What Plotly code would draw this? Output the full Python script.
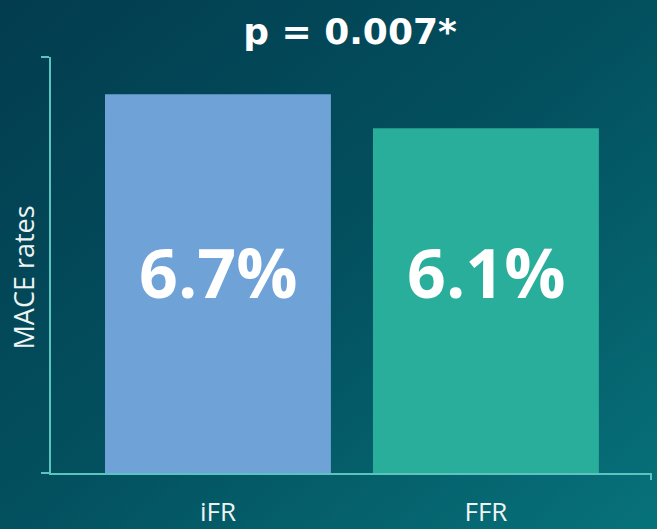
import base64
import plotly.graph_objects as go

# ---- data ----
categories = ["iFR", "FFR"]
mace_rates = [6.7, 6.1]
bar_colors = ["#6fa3d8", "#29ae9c"]
title_text = "p = 0.007*"
y_title = "MACE rates"

# ---- background gradient (decoration) ----
svg = (
    '<svg xmlns="http://www.w3.org/2000/svg" width="657" height="529" preserveAspectRatio="none">'
    '<defs><linearGradient id="g" x1="0" y1="0" x2="1" y2="1">'
    '<stop offset="0" stop-color="#023c4e"/>'
    '<stop offset="0.5" stop-color="#03505f"/>'
    '<stop offset="1" stop-color="#07727a"/>'
    '</linearGradient></defs>'
    '<rect width="657" height="529" fill="url(#g)"/></svg>'
)
bg_src = "data:image/svg+xml;base64," + base64.b64encode(svg.encode()).decode()

axis_color = "#5cc4be"
W, H = 657, 529
ml, mr, mt, mb = 51, 6, 57, 56
pw, ph = W - ml - mr, H - mt - mb

xs = list(range(len(categories)))

fig = go.Figure()
fig.add_trace(go.Bar(
    x=xs, y=mace_rates, width=0.843,
    marker=dict(color=bar_colors, line=dict(width=0)),
    hoverinfo="skip",
))

for xi, v in zip(xs, mace_rates):
    fig.add_annotation(
        x=xi, xref="x", y=0.485, yref="paper",
        text=f"{v}%", showarrow=False,
        font=dict(family="Open Sans", size=68, color="white", weight="bold"),
        xanchor="center", yanchor="middle",
    )

# y-axis title placed as rotated text
fig.add_annotation(
    x=(23 - ml) / pw, xref="paper", y=0.47, yref="paper",
    text=y_title, textangle=-90, showarrow=False,
    font=dict(family="Open Sans", size=27, color="#eef4f4"),
    xanchor="center", yanchor="middle",
)

fig.add_shape(type="line", xref="x domain", yref="y domain",
              x0=1, x1=1, y0=0, y1=-7 / ph,
              line=dict(color=axis_color, width=2))

fig.update_layout(
    width=W, height=H,
    margin=dict(l=ml, r=mr, t=mt, b=mb, autoexpand=False),
    paper_bgcolor="#034a5c",
    plot_bgcolor="rgba(0,0,0,0)",
    showlegend=False,
    title=dict(
        text=title_text, x=(350) / W, xanchor="center",
        y=1 - 31 / H, yref="container", yanchor="middle",
        font=dict(family="DejaVu Sans", size=36, color="white", weight="bold"),
    ),
    images=[dict(source=bg_src, xref="paper", yref="paper",
                 x=-ml / pw, y=1 + mt / ph, sizex=W / pw, sizey=H / ph,
                 xanchor="left", yanchor="top", sizing="stretch", layer="below")],
    xaxis=dict(
        range=[-0.623, 1.616], tickvals=xs, ticktext=categories,
        showline=True, linecolor=axis_color, linewidth=2,
        ticks="", showgrid=False, zeroline=False,
        tickfont=dict(family="Open Sans", size=26, color="#eef4f4"),
        ticklabelstandoff=15,
    ),
    yaxis=dict(
        range=[0, 7.36], tickvals=[0, 7.36], showticklabels=False,
        ticks="outside", ticklen=8, tickwidth=2, tickcolor=axis_color,
        showline=True, linecolor=axis_color, linewidth=2,
        showgrid=False, zeroline=False,
    ),
)

fig.write_html("out.html", config={"displayModeBar": False},
               post_script="document.body.style.margin='0';")
